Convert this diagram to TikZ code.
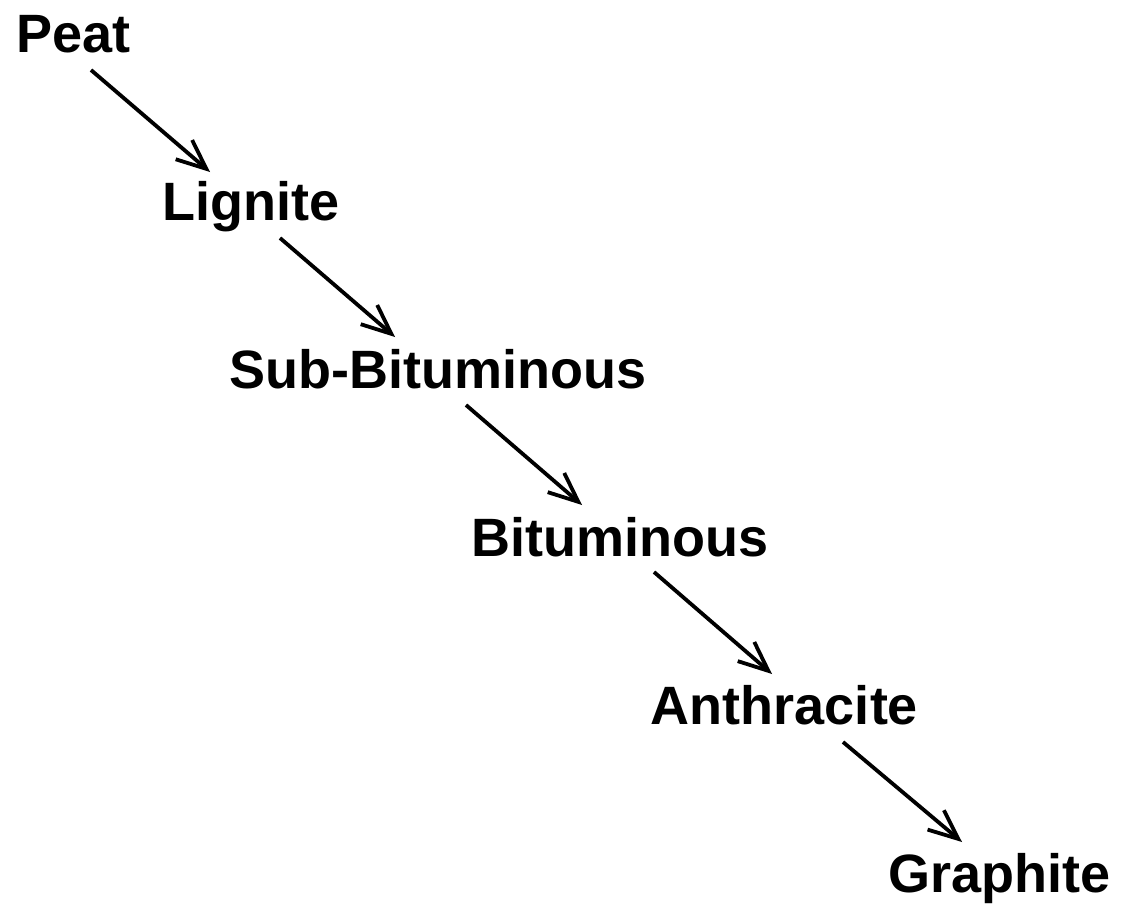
\documentclass[tikz,border=0pt]{standalone}
\usepackage{fontspec}
\setmainfont{Liberation Sans}
\usepackage{tikz}
\usetikzlibrary{arrows.meta}
\tikzstyle{coal} = [anchor=base, inner sep=0pt, font=\fontsize{38.4}{46}\selectfont\bfseries]
\tikzstyle{arrow} = [line width=2.7pt,-{Straight Barb[length=21pt,width=18pt]}]

\begin{document}
\begin{tikzpicture}[x=0.025cm, y=-0.025cm]
\useasboundingbox (0,0) rectangle (1122,914);
\node (Peat) [coal] at (73.5,52) {Peat};
\node (Lignite) [coal] at (250.5,220) {Lignite};
\node (SubBit) [coal] at (438,388) {Sub-Bituminous};
\node (Bit) [coal] at (620,556) {Bituminous};
\node (Anthr) [coal] at (784.5,724) {Anthracite};
\node (Graphite) [coal] at (999,892) {Graphite};

\draw [arrow] ([shift={(17.5,18)}]Peat.base) -- ([shift={(-40.5,-48)}]Lignite.base);
\draw [arrow] ([shift={(29.5,18)}]Lignite.base) -- ([shift={(-43,-51)}]SubBit.base);
\draw [arrow] ([shift={(28,17)}]SubBit.base) -- ([shift={(-38,-51)}]Bit.base);
\draw [arrow] ([shift={(34,16)}]Bit.base) -- ([shift={(-12.5,-50)}]Anthr.base);
\draw [arrow] ([shift={(58.5,18)}]Anthr.base) -- ([shift={(-37,-50)}]Graphite.base);
\end{tikzpicture}
\end{document}
